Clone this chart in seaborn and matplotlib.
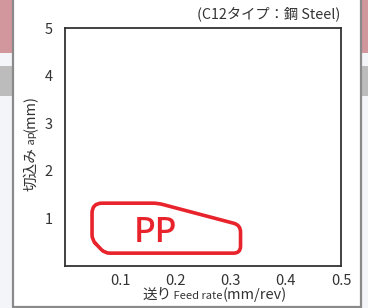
import numpy as np
import matplotlib.pyplot as plt
import seaborn as sns
from matplotlib.path import Path
from matplotlib.patches import Rectangle

# chipbreaker application range (feed mm/rev, depth of cut mm)
pp_feed = [0.049, 0.049, 0.168, 0.318, 0.318, 0.072]
pp_depth = [0.55, 1.32, 1.32, 0.86, 0.27, 0.27]
corner_px = [5, 10, 5, 7, 7, 5]   # corner rounding in pixels
region_label = 'PP'
label_pos = (0.163, 0.71)

x_ticks = [0.1, 0.2, 0.3, 0.4, 0.5]
y_ticks = [1, 2, 3, 4, 5]
title = '(C12タイプ：鋼 Steel)'
xlabel_parts = [('送り', 10.5), (' Feed rate', 8), ('(mm/rev)', 10.5)]
ylabel_parts = [('切込み', 10.5), (' ap', 8), ('(mm)', 10.5)]

sns.set_style('white')
plt.rcParams['font.family'] = ['Noto Sans CJK JP', 'DejaVu Sans']
plt.rcParams['axes.unicode_minus'] = False

fig = plt.figure(figsize=(3.68, 3.08), dpi=100)
fig.patch.set_facecolor('#f3f5f9')
W, H = 368, 308
ink = '#333333'

def px_rect(x0, y0, x1, y1, **kw):
    # rectangle given in pixel coords (top-left origin)
    fig.patches.append(Rectangle((x0 / W, 1 - y1 / H), (x1 - x0) / W, (y1 - y0) / H,
                                 transform=fig.transFigure, figure=fig, **kw))

px_rect(0, 0, W, 53, facecolor='#d2979c', edgecolor='none', zorder=0)
px_rect(0, 66, W, 96, facecolor='#bcbcbc', edgecolor='none', zorder=0)
px_rect(12.5, -5, 360.5, 306.5, facecolor='white', edgecolor='#8a8a8a', linewidth=1.6, zorder=1)

ax = fig.add_axes([65 / W, 1 - 266 / H, 276 / W, 238 / H])
ax.set_zorder(2)
ax.set_xlim(0, 0.5)
ax.set_ylim(0, 5)
ax.set_xticks(x_ticks)
ax.set_yticks(y_ticks)
ax.set_xticklabels([f'{v:.1f}' for v in x_ticks])
ax.tick_params(direction='in', length=4, width=1, color=ink, labelsize=10.5,
               labelcolor=ink, pad=6)
ax.tick_params(axis='y', pad=9)
for s in ax.spines.values():
    s.set_color(ink)
    s.set_linewidth(1.3)

# rounded polygon in display space, mapped back to data
fig.canvas.draw()
renderer = fig.canvas.get_renderer()
pts = ax.transData.transform(np.column_stack([pp_feed, pp_depth]))
n = len(pts)
verts, codes = [], []
for i in range(n):
    p = pts[i]
    a = pts[i - 1]
    b = pts[(i + 1) % n]
    da = (a - p) / np.linalg.norm(a - p)
    db = (b - p) / np.linalg.norm(b - p)
    r = corner_px[i]
    verts.append(p + da * r)
    codes.append(Path.MOVETO if i == 0 else Path.LINETO)
    verts += [p, p + db * r]
    codes += [Path.CURVE3, Path.CURVE3]
verts.append(verts[0]); codes.append(Path.LINETO)
poly = Path(verts, codes).to_polygons(closed_only=False)[0]
line = ax.transData.inverted().transform(poly)
ax.plot(line[:, 0], line[:, 1], color='#e8232b', linewidth=2.6, solid_joinstyle='round',
        solid_capstyle='round', zorder=3)
ax.text(label_pos[0], label_pos[1], region_label, color='#e8232b', fontsize=24,
        fontweight='medium', ha='center', va='center', zorder=4)

# title
fig.text(340 / W, 1 - 14 / H, title, ha='right', va='center', fontsize=10.3, color=ink)

# x label with mixed sizes, laid out piece by piece
x0 = 142 / W
for txt, size in xlabel_parts:
    t = fig.text(x0, 1 - 299 / H, txt, fontsize=size, color=ink, va='baseline', ha='left')
    x0 = fig.transFigure.inverted().transform((t.get_window_extent(renderer).x1, 0))[0]

# y label with mixed sizes (rotated)
y0 = 1 - 191 / H
for txt, size in ylabel_parts:
    t = fig.text(35 / W, y0, txt, fontsize=size, color=ink, rotation=90,
                 va='baseline', ha='left', rotation_mode='anchor')
    y0 = fig.transFigure.inverted().transform((0, t.get_window_extent(renderer).y1))[1]

fig.savefig('out.png', dpi=100)
